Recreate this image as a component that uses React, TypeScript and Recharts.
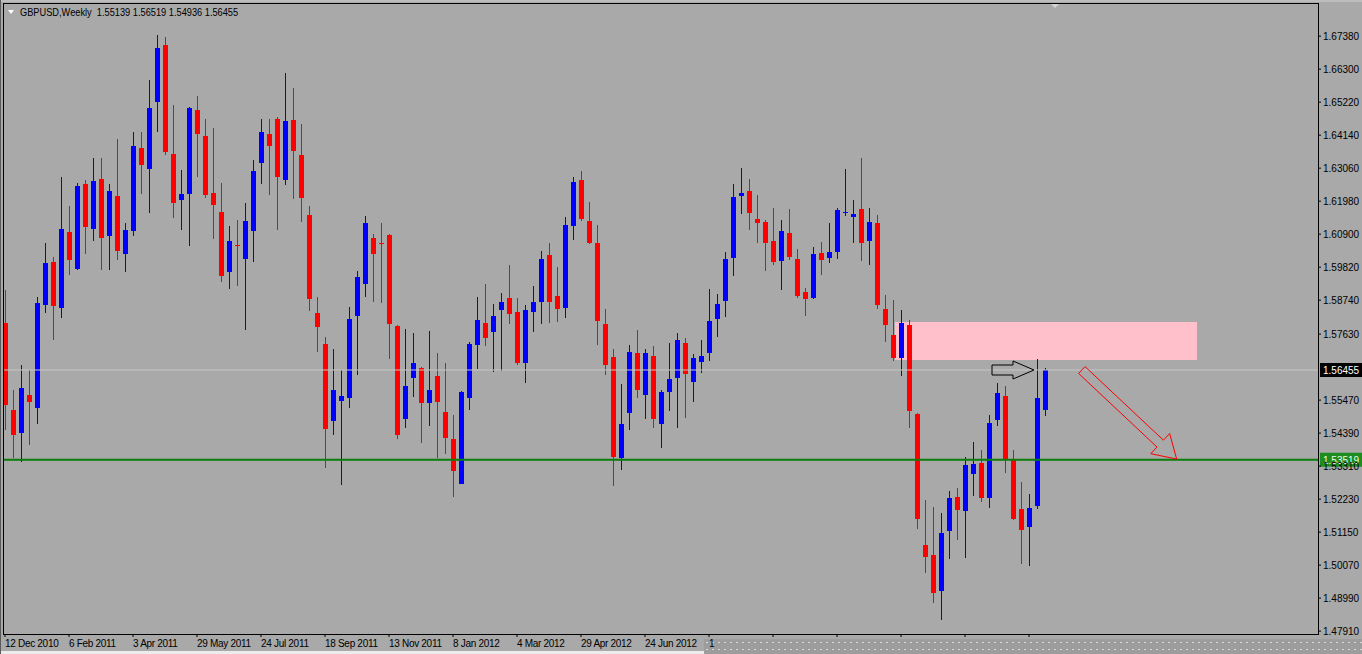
import React from 'react';
import { ComposedChart, Bar, XAxis, YAxis, ReferenceArea, ReferenceLine } from 'recharts';

// GBPUSD weekly candles (first bar = week of 12 Dec 2010)
const opens = [
  1.5798, 1.5515, 1.5438, 1.5564, 1.552, 1.5858, 1.6, 1.5847, 1.6098, 1.5978,
  1.6254, 1.6105, 1.627, 1.6085, 1.6215, 1.6024, 1.6101, 1.6373, 1.6305, 1.6523,
  1.6708, 1.6352, 1.6204, 1.622, 1.6496, 1.6411, 1.6226, 1.6162, 1.5964, 1.6056,
  1.6009, 1.6101, 1.6323, 1.6419, 1.6466, 1.6267, 1.6463, 1.6349, 1.6152, 1.5831,
  1.5731, 1.5477, 1.5545, 1.5555, 1.5825, 1.5927, 1.6078, 1.6062, 1.6088, 1.5789,
  1.5484, 1.562, 1.5652, 1.5539, 1.5626, 1.5507, 1.5419, 1.5275, 1.5553, 1.5728,
  1.5798, 1.5771, 1.5844, 1.5882, 1.5836, 1.5667, 1.5836, 1.5869, 1.6022, 1.5888,
  1.5847, 1.6117, 1.6267, 1.6133, 1.6062, 1.5796, 1.5687, 1.5359, 1.5506, 1.5702,
  1.5564, 1.5691, 1.5471, 1.5571, 1.562, 1.5735, 1.5607, 1.5673, 1.5702, 1.5812,
  1.5872, 1.6011, 1.6216, 1.6231, 1.614, 1.6131, 1.6067, 1.6003, 1.6095, 1.601,
  1.59, 1.588, 1.6029, 1.6012, 1.6032, 1.616, 1.6147, 1.6172, 1.6068, 1.6127,
  1.5844, 1.576, 1.5684, 1.5793, 1.5502, 1.5073, 1.5041, 1.4921, 1.5117, 1.5229,
  1.5186, 1.5305, 1.5342, 1.5226, 1.548, 1.556, 1.5351, 1.519, 1.5131, 1.5201,
  1.55139,
];
const highs = [
  1.5907, 1.558, 1.5662, 1.5646, 1.5885, 1.606, 1.6016, 1.6278, 1.6182, 1.6258,
  1.6267, 1.6338, 1.6338, 1.6254, 1.64, 1.6127, 1.6425, 1.6425, 1.6594, 1.6741,
  1.6736, 1.6512, 1.63, 1.6507, 1.6542, 1.6468, 1.6436, 1.6259, 1.6116, 1.6136,
  1.6193, 1.6334, 1.6468, 1.6468, 1.6472, 1.6616, 1.6567, 1.6449, 1.6182, 1.5883,
  1.5752, 1.5713, 1.5646, 1.5853, 1.597, 1.6149, 1.609, 1.6127, 1.6092, 1.5793,
  1.578, 1.5768, 1.5654, 1.5773, 1.5702, 1.567, 1.5498, 1.5578, 1.5736, 1.5883,
  1.5927, 1.5861, 1.5898, 1.5989, 1.5882, 1.5858, 1.592, 1.6036, 1.6062, 1.5983,
  1.6145, 1.6278, 1.6297, 1.6196, 1.612, 1.5844, 1.5713, 1.56, 1.5727, 1.5776,
  1.5713, 1.5724, 1.558, 1.5735, 1.5765, 1.5749, 1.5698, 1.5744, 1.5909, 1.5894,
  1.6032, 1.6254, 1.6307, 1.6272, 1.6218, 1.6138, 1.6174, 1.6138, 1.6171, 1.604,
  1.5913, 1.6047, 1.6065, 1.6127, 1.6174, 1.6302, 1.6201, 1.6338, 1.6174, 1.6153,
  1.5891, 1.5874, 1.5842, 1.5809, 1.5506, 1.522, 1.5198, 1.5177, 1.5248, 1.5259,
  1.5362, 1.5411, 1.5384, 1.5498, 1.5602, 1.5593, 1.5384, 1.528, 1.524, 1.568,
  1.56519,
];
const lows = [
  1.5449, 1.5357, 1.5346, 1.54, 1.5471, 1.5831, 1.5744, 1.5818, 1.5956, 1.5972,
  1.6025, 1.6065, 1.5972, 1.5972, 1.6003, 1.5967, 1.6085, 1.6221, 1.6158, 1.6425,
  1.6349, 1.6141, 1.6103, 1.6051, 1.6278, 1.621, 1.6073, 1.5934, 1.5909, 1.592,
  1.5779, 1.6, 1.6254, 1.6218, 1.6103, 1.6251, 1.6204, 1.6127, 1.584, 1.5702,
  1.5324, 1.543, 1.5269, 1.5523, 1.5629, 1.5885, 1.5869, 1.5866, 1.5684, 1.5419,
  1.5455, 1.5558, 1.5404, 1.5462, 1.536, 1.5371, 1.5231, 1.5273, 1.5513, 1.5648,
  1.5724, 1.564, 1.5643, 1.5796, 1.5662, 1.5602, 1.5768, 1.5796, 1.58, 1.5804,
  1.5814, 1.6073, 1.6134, 1.6057, 1.5727, 1.5629, 1.5264, 1.5319, 1.5449, 1.5553,
  1.5484, 1.5457, 1.5389, 1.5513, 1.5455, 1.5487, 1.5542, 1.5635, 1.5673, 1.5752,
  1.5818, 1.5953, 1.6156, 1.6105, 1.6062, 1.597, 1.5989, 1.5909, 1.6003, 1.588,
  1.5822, 1.5877, 1.5956, 1.5997, 1.6008, 1.6147, 1.606, 1.6, 1.5986, 1.5847,
  1.5738, 1.5673, 1.5626, 1.5455, 1.5128, 1.4981, 1.4885, 1.4828, 1.5024, 1.509,
  1.503, 1.5233, 1.5215, 1.5193, 1.5462, 1.5308, 1.5155, 1.5011, 1.5005, 1.5188,
  1.54936,
];
const closes = [
  1.5531, 1.5433, 1.5586, 1.5542, 1.5864, 1.5997, 1.5855, 1.6107, 1.6005, 1.6248,
  1.6112, 1.6263, 1.6076, 1.6231, 1.6036, 1.6103, 1.6378, 1.6318, 1.6503, 1.67,
  1.6357, 1.6191, 1.6223, 1.6503, 1.6417, 1.6218, 1.6187, 1.5954, 1.6067, 1.6054,
  1.6134, 1.6296, 1.6425, 1.6381, 1.6276, 1.6461, 1.6363, 1.6209, 1.5877, 1.5784,
  1.5452, 1.558, 1.556, 1.5814, 1.5951, 1.6127, 1.6025, 1.606, 1.5798, 1.5433,
  1.5593, 1.567, 1.5539, 1.558, 1.5542, 1.5421, 1.5313, 1.5575, 1.5729, 1.5809,
  1.5749, 1.5823, 1.5869, 1.5831, 1.567, 1.5842, 1.5869, 1.6009, 1.5869, 1.5844,
  1.612, 1.6261, 1.6139, 1.6062, 1.5807, 1.5662, 1.5359, 1.5469, 1.5705, 1.5582,
  1.5702, 1.5484, 1.5575, 1.5615, 1.5744, 1.5635, 1.5684, 1.5691, 1.5806, 1.5861,
  1.6009, 1.6212, 1.6225, 1.616, 1.6127, 1.6062, 1.5997, 1.61, 1.6016, 1.5888,
  1.5877, 1.6025, 1.6005, 1.6031, 1.6169, 1.6164, 1.6156, 1.6062, 1.6129, 1.5858,
  1.5793, 1.5684, 1.58, 1.5513, 1.5158, 1.5035, 1.4917, 1.5111, 1.5226, 1.5188,
  1.5335, 1.5338, 1.5226, 1.5471, 1.5569, 1.5351, 1.5158, 1.512, 1.5193, 1.5553,
  1.56455,
];

const dateTicks = [0, 8, 16, 24, 32, 40, 48, 56, 64, 72, 80, 88, 96, 104, 112, 120, 128];
const dateLabels = [
  '12 Dec 2010', '6 Feb 2011', '3 Apr 2011', '29 May 2011', '24 Jul 2011', '18 Sep 2011',
  '13 Nov 2011', '8 Jan 2012', '4 Mar 2012', '29 Apr 2012', '24 Jun 2012', '1',
  '', '', '', '', '',
];
const priceTicks = [
  1.6738, 1.663, 1.6522, 1.6414, 1.6306, 1.6198, 1.609, 1.5982, 1.5874, 1.5763,
  1.5547, 1.5439, 1.5331, 1.5223, 1.5115, 1.5007, 1.4899, 1.4791,
];

const lastPrice = 1.56455;
const supportLevel = 1.53519;
const zoneBand = [1.56782, 1.58026];
const zoneBars = [111.25, 149];
const pointerArrow = [{ x: 123.375, y: 1.56455 }, { x: 128.625, y: 1.56455 }];
const targetArrow = [{ x: 134.6, y: 1.56455 }, { x: 146.46, y: 1.5354 }];

const data = opens.map((open, i) => ({
  idx: i,
  open,
  high: highs[i],
  low: lows[i],
  close: closes[i],
  range: [lows[i], highs[i]],
}));

const FONT = '"Liberation Sans", Arial, sans-serif';

const Candle = (props: any) => {
  const { x, y, width, height, payload } = props;
  if (!payload) return null;
  const { open, close, high, low } = payload;
  const cx = Math.round(x + width / 2);
  const k = high === low ? 0 : height / (high - low);
  const yo = y + (high - open) * k;
  const yc = y + (high - close) * k;
  const color = close >= open ? '#0000ff' : '#ff0000';
  const top = Math.min(yo, yc);
  const bodyH = Math.max(Math.abs(yo - yc), 1);
  return (
    <g shapeRendering="crispEdges">
      <rect x={cx} y={Math.round(y)} width={1} height={Math.max(Math.round(height), 1)} fill={color} />
      <rect x={cx - 2} y={Math.round(top)} width={5} height={Math.max(Math.round(bodyH), 1)} fill={color} />
    </g>
  );
};

const arrowShape = (color: string, shaft: number, head: number, headLen: number) => (p: any) => {
  const { x1, y1, x2, y2 } = p;
  const dx = x2 - x1;
  const dy = y2 - y1;
  const len = Math.hypot(dx, dy) || 1;
  const ux = dx / len;
  const uy = dy / len;
  const nx = -uy;
  const ny = ux;
  const bx = x2 - ux * headLen;
  const by = y2 - uy * headLen;
  const pts = [
    [x1 + nx * shaft, y1 + ny * shaft],
    [bx + nx * shaft, by + ny * shaft],
    [bx + nx * head, by + ny * head],
    [x2, y2],
    [bx - nx * head, by - ny * head],
    [bx - nx * shaft, by - ny * shaft],
    [x1 - nx * shaft, y1 - ny * shaft],
  ];
  return (
    <polygon
      points={pts.map((q) => q.join(',')).join(' ')}
      fill="none"
      stroke={color}
      strokeWidth={1}
    />
  );
};

const priceTag = (text: string, bg: string, fg: string) => (props: any) => {
  const vb = props.viewBox;
  if (!vb) return null;
  const left = vb.x + vb.width + 2;
  return (
    <g>
      <rect x={left} y={vb.y - 7} width={42} height={14} fill={bg} />
      <text x={left + 3} y={vb.y + 4} fill={fg} fontSize={10} fontFamily={FONT}>
        {text}
      </text>
    </g>
  );
};

const PriceTick = (props: any) => {
  const { x, y, payload } = props;
  return (
    <text x={x} y={y} dy={4} textAnchor="start" fill="#000" fontSize={10} fontFamily={FONT}>
      {Number(payload.value).toFixed(5)}
    </text>
  );
};

const DateTick = (props: any) => {
  const { x, y, payload } = props;
  const label = dateLabels[dateTicks.indexOf(payload.value)] || '';
  return (
    <text x={x} y={y} dy={8} textAnchor="start" fill="#000" fontSize={10} fontFamily={FONT} letterSpacing={-0.3}>
      {label}
    </text>
  );
};

export default function App() {
  const last = opens.length - 1;
  const header = `GBPUSD,Weekly  ${opens[last].toFixed(5)} ${highs[last].toFixed(5)} ${lows[last].toFixed(5)} ${closes[last].toFixed(5)}`;

  return (
    <div
      style={{
        position: 'absolute',
        left: 0,
        top: 0,
        width: 1362,
        height: 654,
        background: '#a9a9a9',
        overflow: 'hidden',
        fontFamily: FONT,
      }}
    >
      {/* bits of the terminal window around the chart */}
      <div style={{ position: 'absolute', left: 0, top: 0, width: 1362, height: 2, background: '#bdbdbd' }} />
      <div style={{ position: 'absolute', left: 0, top: 651, width: 704, height: 3, background: '#ececec' }} />
      <div
        style={{
          position: 'absolute',
          left: 704,
          top: 639,
          width: 658,
          height: 15,
          backgroundColor: '#9d9d9d',
          backgroundImage: 'radial-gradient(#d6d6d6 0.7px, transparent 1px)',
          backgroundSize: '6px 7px',
        }}
      />
      <div style={{ position: 'absolute', left: 0, top: 0, width: 1, height: 654, background: '#5a5a5a' }} />

      <div style={{ position: 'absolute', left: 0, top: 0 }}>
        <ComposedChart
          width={1362}
          height={654}
          data={data}
          margin={{ top: 4, right: 0, bottom: 0, left: 4 }}
        >
          <XAxis
            dataKey="idx"
            type="number"
            domain={[-0.125, 164.125]}
            allowDataOverflow
            ticks={dateTicks}
            interval={0}
            height={20}
            axisLine={false}
            tickLine={{ stroke: '#000' }}
            tickSize={3}
            tick={<DateTick />}
          />
          <YAxis
            orientation="right"
            type="number"
            domain={[1.47816, 1.68432]}
            allowDataOverflow
            ticks={priceTicks}
            interval={0}
            width={44}
            axisLine={false}
            tickLine={{ stroke: '#000' }}
            tickSize={3}
            tick={<PriceTick />}
          />
          <ReferenceArea
            x1={zoneBars[0]}
            x2={zoneBars[1]}
            y1={zoneBand[0]}
            y2={zoneBand[1]}
            fill="#ffc0cb"
            fillOpacity={1}
            stroke="none"
          />
          <Bar dataKey="range" shape={<Candle />} barSize={5} isAnimationActive={false} />
          <ReferenceLine
            y={lastPrice}
            stroke="#c6c6c6"
            strokeWidth={1}
            label={{ content: priceTag(lastPrice.toFixed(5), '#000', '#fff') }}
          />
          <ReferenceLine
            y={supportLevel}
            stroke="#0a7d0a"
            strokeWidth={2}
            label={{ content: priceTag(supportLevel.toFixed(5), '#1e8c1e', '#e8ffe8') }}
          />
          <ReferenceLine
            segment={pointerArrow}
            ifOverflow="visible"
            shape={arrowShape('#000', 5, 9, 21)}
          />
          <ReferenceLine
            segment={targetArrow}
            ifOverflow="visible"
            shape={arrowShape('#ff0000', 4.7, 13.8, 22.6)}
          />
        </ComposedChart>
      </div>

      {/* chart frame */}
      <div
        style={{
          position: 'absolute',
          left: 3,
          top: 3,
          width: 1316,
          height: 632,
          border: '1px solid #000',
          boxSizing: 'border-box',
          pointerEvents: 'none',
        }}
      />
      <div
        style={{
          position: 'absolute',
          left: 8,
          top: 10,
          width: 0,
          height: 0,
          borderLeft: '3px solid transparent',
          borderRight: '3px solid transparent',
          borderTop: '4px solid #fff',
        }}
      />
      <div
        style={{
          position: 'absolute',
          left: 1051,
          top: 4,
          width: 0,
          height: 0,
          borderLeft: '4px solid transparent',
          borderRight: '4px solid transparent',
          borderTop: '4px solid #d4d4d4',
        }}
      />
      <div
        style={{
          position: 'absolute',
          left: 20,
          top: 6,
          fontSize: 11,
          lineHeight: '12px',
          color: '#000',
          whiteSpace: 'pre',
          transform: 'scaleX(0.84)',
          transformOrigin: 'left center',
        }}
      >
        {header}
      </div>
    </div>
  );
}
